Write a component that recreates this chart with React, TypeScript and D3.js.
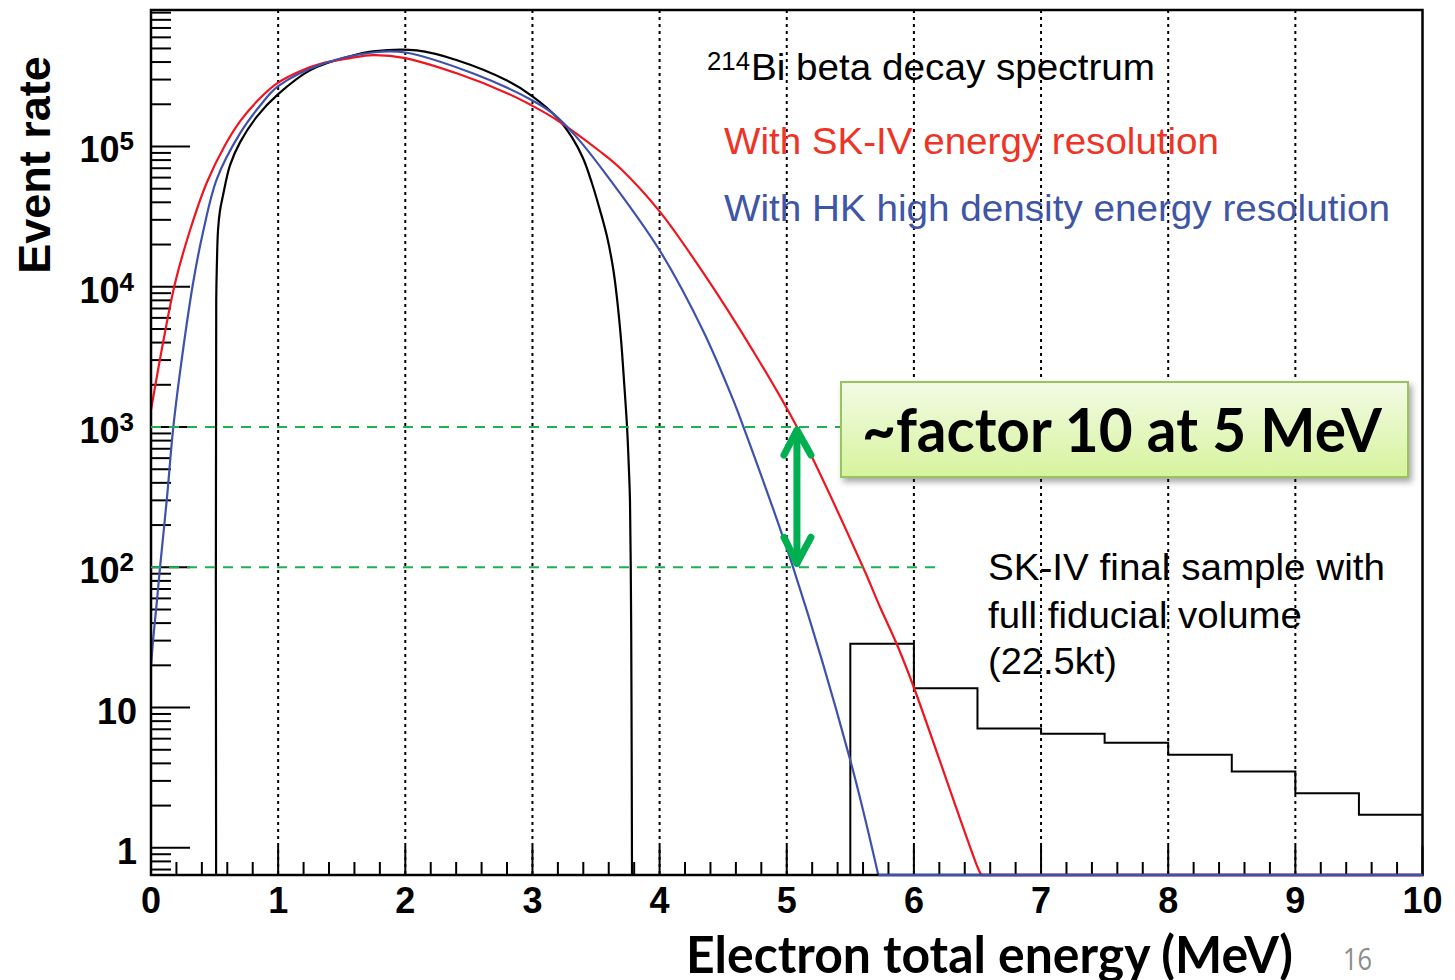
import React from 'react';
import * as d3 from 'd3';

// ---------- data ----------
const Y_MIN = 0.64;
const Y_MAX = 9.4e5;

const xTickValues = [0, 1, 2, 3, 4, 5, 6, 7, 8, 9, 10];
const xGridValues = [1, 2, 3, 4, 5, 6, 7, 8, 9];
const yDecades = [1, 10, 100, 1000, 10000, 100000];
const yDecadeLabels = ['1', '10', '10|2', '10|3', '10|4', '10|5'];

// True 214Bi beta spectrum [E (MeV), rate]
const blackSpectrum: [number, number][] = [
  [0.512, 0.64], [0.513, 7940], [0.519, 15500], [0.527, 25300], [0.543, 35100],
  [0.566, 44700], [0.621, 73300], [0.7, 107000], [0.834, 164000], [1.0, 236000],
  [1.25, 349000], [1.566, 440000], [1.746, 476000], [2.09, 484000], [2.407, 412000],
  [2.8, 295000], [3.0, 228000], [3.193, 161000], [3.311, 116000], [3.398, 82400],
  [3.468, 54700], [3.531, 35200], [3.586, 22900], [3.634, 13600], [3.665, 8280],
  [3.697, 4170], [3.72, 2140], [3.744, 1000], [3.759, 490], [3.767, 302],
  [3.775, 58.9], [3.779, 11.2], [3.783, 0.64],
];

// With SK-IV energy resolution
const redSpectrum: [number, number][] = [
  [0.0, 1320], [0.094, 3960], [0.189, 10600], [0.307, 25300], [0.44, 55600],
  [0.582, 102000], [0.7, 151000], [0.857, 221000], [0.991, 282000], [1.172, 344000],
  [1.353, 393000], [1.566, 427000], [1.746, 448000], [2.0, 427000], [2.41, 331000],
  [2.8, 240000], [3.0, 195000], [3.19, 155000], [3.53, 92500], [3.69, 70000],
  [4.0, 34500], [4.34, 12700], [4.73, 3550], [5.08, 1000], [5.6, 100], [5.73, 53],
  [5.87, 27.7], [6.0, 13.9], [6.5, 0.73], [6.53, 0.64], [10.0, 0.64],
];

// With HK high density energy resolution
const blueSpectrum: [number, number][] = [
  [0.0, 19.5], [0.016, 30], [0.047, 58], [0.071, 100], [0.126, 316], [0.173, 950],
  [0.228, 2450], [0.33, 10500], [0.409, 24500], [0.519, 59000], [0.7, 124000],
  [0.857, 195000], [1.0, 269000], [1.353, 389000], [1.746, 468000], [2.0, 468000],
  [2.535, 331000], [3.0, 213000], [3.16, 172000], [3.335, 120000], [3.555, 67600],
  [4.0, 18200], [4.34, 4900], [4.58, 1550], [4.66, 1000], [5.05, 100], [5.5, 4.2],
  [5.72, 0.64], [10.0, 0.64],
];

// SK-IV final sample histogram (0.5 MeV bins)
const histBinEdges = [5.5, 6.0, 6.5, 7.0, 7.5, 8.0, 8.5, 9.0, 9.5, 10.0];
const histValues = [28.5, 13.7, 7.1, 6.5, 5.6, 4.6, 3.5, 2.45, 1.72];

// annotations
const factorLines = [
  { value: 1000, endE: 5.42 },
  { value: 100, endE: 6.21 },
];
const arrowE = 5.08;
const arrowTop = 1000;
const arrowBottom = 100;

export default function App() {
  const x = d3.scaleLinear().domain([0, 10]).range([151, 1422.5]);
  const y = d3.scaleLog().domain([Y_MIN, Y_MAX]).range([875, 10]);
  const yc = (v: number) => y(Math.max(v, Y_MIN));

  const smooth = d3
    .line<[number, number]>()
    .x((d) => x(d[0]))
    .y((d) => yc(d[1]))
    .curve(d3.curveCatmullRom.alpha(0.5));
  const straight = d3
    .line<[number, number]>()
    .x((d) => x(d[0]))
    .y((d) => yc(d[1]));

  // curve part above the frame floor is smooth; the part resting on the floor is straight
  const splitPaths = (pts: [number, number][]) => {
    let idx = pts.findIndex((p, i) => i > 0 && p[1] <= Y_MIN);
    if (idx < 0) idx = pts.length - 1;
    const head = pts.slice(0, idx + 1);
    const tail = pts.slice(idx);
    return [smooth(head) || '', tail.length > 1 ? straight(tail) || '' : ''];
  };

  const histPts: [number, number][] = [[histBinEdges[0], Y_MIN]];
  histValues.forEach((v, i) => {
    histPts.push([histBinEdges[i], v]);
    histPts.push([histBinEdges[i + 1], v]);
  });
  const histPath = straight(histPts);

  // minor x ticks every 0.2
  const xMinor: number[] = d3
    .range(0, 50)
    .map((i) => i * 0.2)
    .filter((v) => Math.abs(v - Math.round(v)) > 1e-6);

  // minor y ticks
  const yMinor: number[] = [0.7, 0.8, 0.9];
  yDecades.forEach((d) => {
    for (let k = 2; k <= 9; k++) {
      const v = k * d;
      if (v <= Y_MAX) yMinor.push(v);
    }
  });

  const x0 = x(0);
  const yBottom = 875;
  const yTop = 10;
  const xRight = x(10);

  const tickFont = "'Liberation Sans', Arial, sans-serif";
  const green = '#1fb04f';
  const ax = x(arrowE);
  const aT = y(arrowTop);
  const aB = y(arrowBottom);

  const series = [
    { pts: blackSpectrum, color: '#000' },
    { pts: redSpectrum, color: '#f0141e' },
    { pts: blueSpectrum, color: '#3d51ad' },
  ].map((s) => {
    const [head, tail] = splitPaths(s.pts);
    return { ...s, head, tail };
  });

  return (
    <svg
      width={1455}
      height={980}
      style={{ position: 'absolute', left: 0, top: 0, background: '#fff' }}
    >
      <defs>
        <linearGradient id="boxGrad" x1="0" y1="0" x2="0" y2="1">
          <stop offset="0%" stopColor="#f3fbe6" />
          <stop offset="100%" stopColor="#d6f39c" />
        </linearGradient>
        <filter id="shadow" x="-10%" y="-20%" width="130%" height="160%">
          <feDropShadow dx="3" dy="4" stdDeviation="3" floodColor="#000" floodOpacity="0.35" />
        </filter>
        <clipPath id="frameClip">
          <rect x={x0} y={yTop} width={xRight - x0} height={yBottom - yTop} />
        </clipPath>
      </defs>

      {/* grid */}
      {xGridValues.map((v) => (
        <line
          key={'g' + v}
          x1={x(v)}
          x2={x(v)}
          y1={yTop}
          y2={yBottom}
          stroke="#000"
          strokeWidth={2}
          strokeDasharray="3,4"
        />
      ))}

      {/* x ticks */}
      {xTickValues.map((v) => (
        <line key={'xt' + v} x1={x(v)} x2={x(v)} y1={yBottom} y2={yBottom - 29} stroke="#000" strokeWidth={2} />
      ))}
      {xMinor.map((v) => (
        <line key={'xm' + v} x1={x(v)} x2={x(v)} y1={yBottom} y2={yBottom - 13} stroke="#000" strokeWidth={2} />
      ))}

      {/* y ticks */}
      {yDecades.map((v) => (
        <line key={'yt' + v} x1={x0} x2={x0 + 39} y1={y(v)} y2={y(v)} stroke="#000" strokeWidth={2} />
      ))}
      {yMinor.map((v) => (
        <line key={'ym' + v} x1={x0} x2={x0 + 20} y1={y(v)} y2={y(v)} stroke="#000" strokeWidth={2} />
      ))}

      {/* curves */}
      <g clipPath="url(#frameClip)">
        <path d={histPath || ''} fill="none" stroke="#000" strokeWidth={2} />
        {series.map((s, i) => (
          <path key={'h' + i} d={s.head} fill="none" stroke={s.color} strokeWidth={2.2} />
        ))}
      </g>

      {/* frame */}
      <rect x={x0} y={yTop} width={xRight - x0} height={yBottom - yTop} fill="none" stroke="#000" strokeWidth={2.5} />

      {/* curve portions resting on the frame floor */}
      {series.map((s, i) =>
        s.tail ? <path key={'t' + i} d={s.tail} fill="none" stroke={s.color} strokeWidth={2.5} /> : null
      )}

      {/* green dashed lines */}
      {factorLines.map((f) => (
        <line
          key={'f' + f.value}
          x1={x0}
          x2={x(f.endE)}
          y1={y(f.value)}
          y2={y(f.value)}
          stroke={green}
          strokeWidth={2}
          strokeDasharray="10,8"
        />
      ))}

      {/* double arrow */}
      <g stroke="#00b050" strokeWidth={7} strokeLinecap="round" strokeLinejoin="round" fill="none">
        <line x1={ax} x2={ax} y1={aT + 4} y2={aB - 4} />
        <polyline points={`${ax - 13},${aT + 28} ${ax},${aT + 3} ${ax + 14},${aT + 28}`} />
        <polyline points={`${ax - 13},${aB - 30} ${ax},${aB - 4} ${ax + 14},${aB - 30}`} />
      </g>

      {/* tick labels */}
      {xTickValues.map((v) => (
        <text
          key={'xl' + v}
          x={x(v)}
          y={913}
          textAnchor="middle"
          fontFamily={tickFont}
          fontWeight="bold"
          fontSize={36}
        >
          {v}
        </text>
      ))}
      {yDecades.map((v, i) => {
        const lab = yDecadeLabels[i];
        const parts = lab.split('|');
        return (
          <text
            key={'yl' + v}
            x={parts.length > 1 ? 134 : 137}
            y={y(v) + 16}
            textAnchor="end"
            fontFamily={tickFont}
            fontWeight="bold"
            fontSize={36}
          >
            {parts[0]}
            {parts.length > 1 && (
              <tspan dy={-12} fontSize={26}>
                {parts[1]}
              </tspan>
            )}
          </text>
        );
      })}

      {/* axis titles */}
      <text
        transform="translate(50,165) rotate(-90)"
        textAnchor="middle"
        fontFamily={tickFont}
        fontWeight="bold"
        fontSize={45}
      >
        Event rate
      </text>
      <text
        x={686}
        y={973}
        fontFamily="Lato, 'Open Sans', sans-serif"
        fontWeight="bold"
        fontSize={52}
        textLength={607}
        lengthAdjust="spacingAndGlyphs"
      >
        Electron total energy (MeV)
      </text>
      <text
        x={1343}
        y={970}
        fontFamily="'Open Sans', Lato, sans-serif"
        fontSize={31}
        fill="#8c8c8c"
        textLength={29}
        lengthAdjust="spacingAndGlyphs"
      >
        16
      </text>

      {/* legend-like texts */}
      <text x={707} y={70} fontFamily={tickFont} fontSize={25} textLength={43} lengthAdjust="spacingAndGlyphs">
        214
      </text>
      <text x={751} y={80} fontFamily={tickFont} fontSize={36} textLength={404} lengthAdjust="spacingAndGlyphs">
        Bi beta decay spectrum
      </text>
      <text x={724} y={154} fontFamily={tickFont} fontSize={36} fill="#ee3426" textLength={495} lengthAdjust="spacingAndGlyphs">
        With SK-IV energy resolution
      </text>
      <text x={724} y={221} fontFamily={tickFont} fontSize={36} fill="#3f55a6" textLength={666} lengthAdjust="spacingAndGlyphs">
        With HK high density energy resolution
      </text>

      <g fontFamily={tickFont} fontSize={36} fill="#000">
        <text x={988} y={580} textLength={397} lengthAdjust="spacingAndGlyphs">
          SK-IV final sample with
        </text>
        <text x={988} y={628} textLength={314} lengthAdjust="spacingAndGlyphs">
          full fiducial volume
        </text>
        <text x={988} y={674} textLength={129} lengthAdjust="spacingAndGlyphs">
          (22.5kt)
        </text>
      </g>

      {/* factor box */}
      <rect
        x={841}
        y={382}
        width={567}
        height={95}
        fill="url(#boxGrad)"
        stroke="#98c45c"
        strokeWidth={2}
        filter="url(#shadow)"
      />
      <text
        x={862}
        y={452}
        fontFamily="Lato, 'Open Sans', sans-serif"
        fontWeight="bold"
        fontSize={62}
        textLength={520}
        lengthAdjust="spacingAndGlyphs"
      >
        ~factor 10 at 5 MeV
      </text>
    </svg>
  );
}
